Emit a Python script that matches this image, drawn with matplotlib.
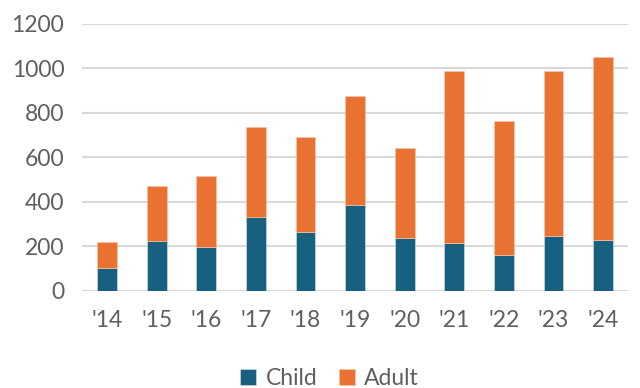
import matplotlib
matplotlib.use("Agg")
import matplotlib.pyplot as plt
import numpy as np

years = ["'14", "'15", "'16", "'17", "'18", "'19", "'20", "'21", "'22", "'23", "'24"]
child = [103, 225, 198, 331, 265, 387, 238, 216, 160, 246, 229]
total = [218, 472, 515, 737, 691, 874, 641, 986, 763, 989, 1049]
adult = [t - c for t, c in zip(total, child)]

child_color = "#17607F"
adult_color = "#E97132"
text_color = "#5f5f5f"

plt.rcParams['font.family'] = ['Lato', 'DejaVu Sans']

fig = plt.figure(figsize=(6.4, 3.88), dpi=100)
ax = fig.add_axes([0.1286, 0.2508, 0.8524, 0.6882])

x = np.arange(len(years))
w = 0.4
ax.bar(x, child, w, color=child_color, edgecolor="#d8e4ea", linewidth=0.4, label="Child", zorder=3)
ax.bar(x, adult, w, bottom=child, color=adult_color, edgecolor="#f6c8ae", linewidth=0.4, label="Adult", zorder=3)

ax.set_xlim(-0.5, 10.5)
ax.set_ylim(0, 1200)
ax.set_yticks(range(0, 1201, 200))
ax.set_xticks(x)
ax.set_xticklabels(years)
ax.yaxis.grid(True, color="#d9d9d9", linewidth=1.5, zorder=0)
ax.set_axisbelow(True)
for s in ax.spines.values():
    s.set_visible(False)
ax.tick_params(axis='both', length=0, labelsize=16.5, colors=text_color, labelcolor=text_color)
ax.tick_params(axis='y', pad=13)
ax.tick_params(axis='x', pad=14)

leg = fig.legend(loc="center", bbox_to_anchor=(0.515, 0.025), ncol=2, frameon=False,
                 prop={'size': 16.5}, handlelength=0.7, handleheight=0.7,
                 handletextpad=0.4, columnspacing=0.95, labelcolor=text_color)

fig.savefig("out.png", dpi=100)
